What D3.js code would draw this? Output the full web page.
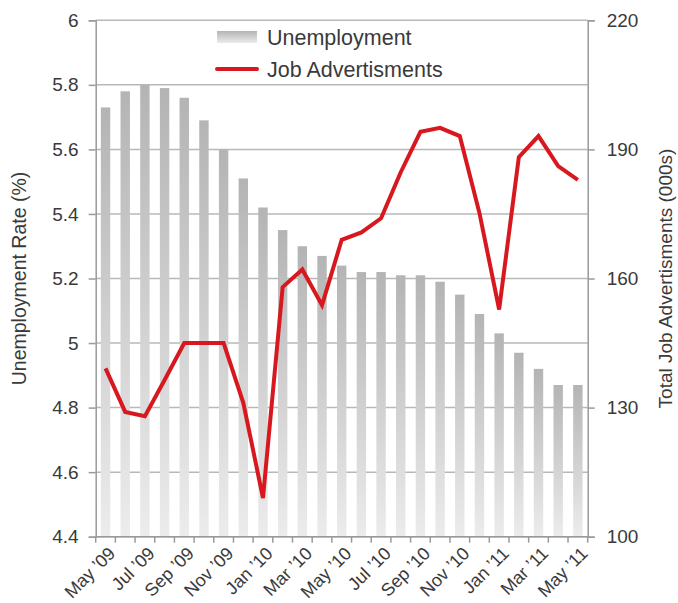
<!DOCTYPE html>
<html>
<head>
<meta charset="utf-8">
<script src="https://cdn.jsdelivr.net/npm/d3@7"></script>
<style>
  html, body { margin: 0; padding: 0; background: #fff; }
  svg { display: block; font-family: "Liberation Sans", Arial, sans-serif; }
</style>
</head>
<body>
<svg id="chart" width="678" height="603"></svg>
<script>
const months = ["May ’09","Jun ’09","Jul ’09","Aug ’09","Sep ’09","Oct ’09","Nov ’09","Dec ’09",
  "Jan ’10","Feb ’10","Mar ’10","Apr ’10","May ’10","Jun ’10","Jul ’10","Aug ’10","Sep ’10","Oct ’10","Nov ’10","Dec ’10",
  "Jan ’11","Feb ’11","Mar ’11","Apr ’11","May ’11"];
const unemployment = [5.73,5.78,5.80,5.79,5.76,5.69,5.60,5.51,5.42,5.35,5.30,5.27,5.24,5.22,5.22,5.21,5.21,5.19,5.15,5.09,5.03,4.97,4.92,4.87,4.87];
const jobAds = [139.1,129.0,128.0,136.4,145,145,145,131.1,109,158,162.1,153.8,169,170.7,174,184.7,194.1,195,193.1,175.2,152.8,188.2,193.1,186.1,182.9];
const leftTicks = [4.4,4.6,4.8,5,5.2,5.4,5.6,5.8,6];
const rightTicks = [100,130,160,190,220];
const seriesNames = ["Unemployment","Job Advertisments"];
const leftTitle = "Unemployment Rate (%)";
const rightTitle = "Total Job Advertisments (000s)";

const svg = d3.select("#chart");
const L = 95.7, R = 587.7, T = 20.3, B = 536.7;
const textColor = "#3a3a3a", axisColor = "#9a9a9a", gridColor = "#b8b8b8", red = "#d7191f";

const defs = svg.append("defs");
const grad = defs.append("linearGradient").attr("id","barGrad")
  .attr("x1",0).attr("y1",0).attr("x2",0).attr("y2",1);
grad.append("stop").attr("offset","0%").attr("stop-color","#b4b4b4");
grad.append("stop").attr("offset","100%").attr("stop-color","#ececec");

const xb = d3.scaleBand().domain(months).range([L, R]);
const yL = d3.scaleLinear().domain([4.4, 6]).range([B, T]);
const yR = d3.scaleLinear().domain([100, 220]).range([B, T]);

// gridlines
svg.append("g").selectAll("line").data(leftTicks).join("line")
  .attr("x1", L).attr("x2", R).attr("y1", d => yL(d)).attr("y2", d => yL(d))
  .attr("stroke", gridColor).attr("stroke-width", 1.5);

// bars
svg.append("g").selectAll("rect").data(unemployment).join("rect")
  .attr("x", (d,i) => xb(months[i]) + xb.bandwidth()/2 - 4.7)
  .attr("width", 9.4)
  .attr("y", d => yL(d))
  .attr("height", d => B - yL(d))
  .attr("fill", "url(#barGrad)");

// line
const line = d3.line().x((d,i) => xb(months[i]) + xb.bandwidth()/2).y(d => yR(d));
svg.append("path").datum(jobAds).attr("d", line)
  .attr("fill","none").attr("stroke", red).attr("stroke-width", 4).attr("stroke-linejoin","miter");

// left axis
const gl = svg.append("g").attr("transform", `translate(${L},0)`)
  .call(d3.axisLeft(yL).tickValues(leftTicks).tickSize(7).tickPadding(10).tickFormat(d => d3.format("")(+d.toFixed(1))));
gl.select(".domain").attr("stroke", axisColor).attr("stroke-width", 1.5);
gl.selectAll(".tick line").attr("stroke", axisColor).attr("stroke-width", 1.5);
gl.selectAll(".tick text").attr("fill", textColor).attr("font-size", 19).attr("font-family", "Liberation Sans, Arial, sans-serif");

// right axis
const gr = svg.append("g").attr("transform", `translate(${R},0)`)
  .call(d3.axisRight(yR).tickValues(rightTicks).tickSize(7).tickPadding(12));
gr.select(".domain").attr("stroke", axisColor).attr("stroke-width", 1.5);
gr.selectAll(".tick line").attr("stroke", axisColor).attr("stroke-width", 1.5);
gr.selectAll(".tick text").attr("fill", textColor).attr("font-size", 19).attr("font-family", "Liberation Sans, Arial, sans-serif");

// bottom axis
const tickPos = months.map(m => xb(m)).concat([R]);
const gb = svg.append("g");
gb.append("line").attr("x1", L).attr("x2", R).attr("y1", B).attr("y2", B)
  .attr("stroke", axisColor).attr("stroke-width", 1.5);
gb.selectAll("line.t").data(tickPos).join("line").attr("class","t")
  .attr("x1", d => d).attr("x2", d => d).attr("y1", B).attr("y2", B + 6)
  .attr("stroke", axisColor).attr("stroke-width", 1.5);
gb.selectAll("text").data(months.filter((m,i) => i % 2 === 0)).join("text")
  .attr("transform", d => `translate(${xb(d) + xb.bandwidth()/2 + 2},${B + 9}) rotate(-45)`)
  .attr("text-anchor", "end").attr("dy", "0.7em")
  .attr("fill", textColor).attr("font-size", 18).text(d => d);

// titles
svg.append("text").attr("transform", `translate(26,${(T+B)/2}) rotate(-90)`)
  .attr("text-anchor","middle").attr("fill", textColor).attr("font-size", 19.5).text(leftTitle);
svg.append("text").attr("transform", `translate(672,${(T+B)/2}) rotate(-90)`)
  .attr("text-anchor","middle").attr("fill", textColor).attr("font-size", 19).text(rightTitle);

// legend
const lg = svg.append("g");
lg.append("rect").attr("x", 217).attr("y", 31).attr("width", 40).attr("height", 12).attr("fill","url(#barGrad)");
lg.append("line").attr("x1", 217).attr("x2", 257).attr("y1", 69).attr("y2", 69)
  .attr("stroke", red).attr("stroke-width", 4).attr("stroke-linecap","round");
lg.append("text").attr("x", 267).attr("y", 45).attr("fill", textColor).attr("font-size", 21.5).text(seriesNames[0]);
lg.append("text").attr("x", 267).attr("y", 77).attr("fill", textColor).attr("font-size", 21.5).text(seriesNames[1]);
</script>
</body>
</html>
